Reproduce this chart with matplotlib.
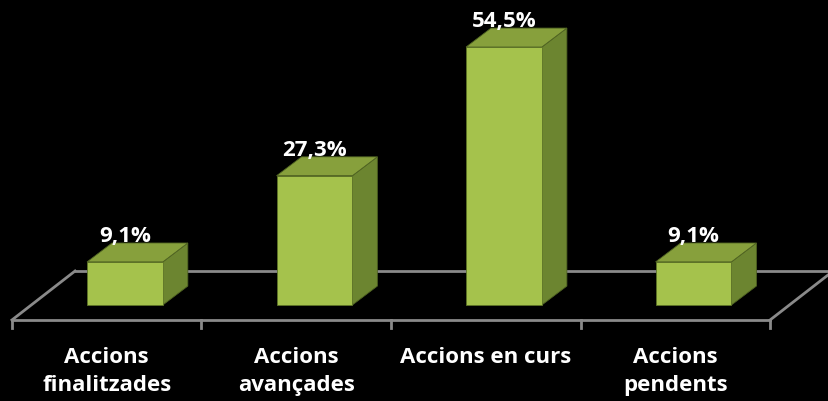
import matplotlib.pyplot as plt
from matplotlib.patches import Polygon

# Données
categories = ["Accions\nfinalitzades", "Accions\navançades", "Accions en curs", "Accions\npendents"]
valeurs = [9.1, 27.3, 54.5, 9.1]
etiquettes = ["9,1%", "27,3%", "54,5%", "9,1%"]

# Couleurs des faces
c_face = "#a5c24c"
c_haut = "#87a03c"
c_cote = "#6c8530"
c_sol = "#8a8a8a"

# Géométrie pseudo-3D (unités des axes)
larg = 0.4
dx, dy = 0.132, 4.0          # décalage de profondeur d'une barre
sol_av, sol_ar = -3.17, 7.18  # bord avant / arrière du sol
sol_dx = 0.333
decal = 0.096
police = "Open Sans"

fig = plt.figure(figsize=(8.29, 4.01), dpi=100, facecolor="black")
ax = fig.add_axes([0, 0, 1, 1])
ax.set_facecolor("black")
ax.set_xlim(-0.563, 3.811)
ax.set_ylim(-20.28, 64.43)
ax.axis("off")

# Le sol (derrière les barres)
g, d = -0.5, 3.5
z = 0.5
ax.plot([g, d], [sol_av, sol_av], color=c_sol, lw=2, zorder=z)
ax.plot([g + sol_dx, d + sol_dx], [sol_ar, sol_ar], color=c_sol, lw=2, zorder=z)
ax.plot([g, g + sol_dx], [sol_av, sol_ar], color=c_sol, lw=2, zorder=z)
ax.plot([d, d + sol_dx], [sol_av, sol_ar], color=c_sol, lw=2, zorder=z)
for k in range(5):
    ax.plot([k - 0.5, k - 0.5], [sol_av, sol_av - 1.7], color=c_sol, lw=2, zorder=z)

# Les barres
for i, v in enumerate(valeurs):
    x0 = i + decal - larg / 2
    x1 = i + decal + larg / 2
    ax.add_patch(Polygon([(x1, 0), (x1 + dx, dy), (x1 + dx, v + dy), (x1, v)],
                         closed=True, fc=c_cote, ec="#4f6322", lw=0.6, zorder=1))
    ax.add_patch(Polygon([(x0, v), (x1, v), (x1 + dx, v + dy), (x0 + dx, v + dy)],
                         closed=True, fc=c_haut, ec="#4f6322", lw=0.6, zorder=1))
    ax.bar(i + decal, v, width=larg, bottom=0, color=c_face, edgecolor="#5d7327",
           lw=0.6, zorder=1.5)
    ax.text(i + decal, v + dy + 0.2, etiquettes[i], color="white", fontsize=16,
            fontweight="bold", family=police, ha="center", va="baseline")

# Étiquettes des catégories
for i, c in enumerate(categories):
    ax.text(i, -8.9, c, color="white", fontsize=16, fontweight="bold", family=police,
            ha="center", va="top", linespacing=1.45)

plt.savefig("out.png", facecolor="black")
plt.close()
